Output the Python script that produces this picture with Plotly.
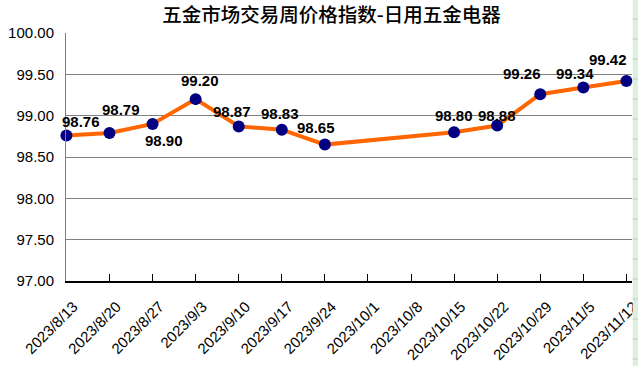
import plotly.graph_objects as go

title_text = "五金市场交易周价格指数-日用五金电器"
categories = ["2023/8/13", "2023/8/20", "2023/8/27", "2023/9/3", "2023/9/10",
              "2023/9/17", "2023/9/24", "2023/10/1", "2023/10/8", "2023/10/15",
              "2023/10/22", "2023/10/29", "2023/11/5", "2023/11/12"]
values = [98.76, 98.79, 98.90, 99.20, 98.87, 98.83, 98.65, None, None,
          98.80, 98.88, 99.26, 99.34, 99.42]
y_ticks = [97.0, 97.5, 98.0, 98.5, 99.0, 99.5, 100.0]

# label offsets in pixels (style only)
label_dx = [15, 11, 11, 4, -7, -2, -9, 0, 0, 0, 0, -18, -8, -18]
label_dy = [14, 24, -17, 19, 15, 16, 17, 0, 0, 17, 10, 21, 14, 21]

fig = go.Figure()
fig.add_trace(go.Scatter(
    x=categories, y=values, mode="lines+markers", connectgaps=True,
    line=dict(color="#FF6600", width=4),
    marker=dict(color="#000080", size=12),
    cliponaxis=False, showlegend=False, hoverinfo="x+y"))

for i, (c, v) in enumerate(zip(categories, values)):
    if v is None:
        continue
    fig.add_annotation(x=c, y=v, text=f"{v:.2f}", showarrow=False,
                       xshift=label_dx[i], yshift=label_dy[i],
                       font=dict(family="Liberation Sans, Arial", size=15,
                                 color="black", weight="bold"))

W, H = 638, 366
L, R, T, B = 66, 6, 33, 85
pw, ph = W - L - R, H - T - B


def px_x(p):
    return (p - L) / pw


def px_y(p):
    return (H - B - p) / ph


# spreadsheet strip at the right edge
fig.add_shape(type="rect", xref="paper", yref="paper",
              x0=px_x(632.7), x1=px_x(640), y0=px_y(370), y1=px_y(-4),
              fillcolor="#DDEFDD", line=dict(width=0), layer="above")
for k in range(19):
    yy = 19 + 20 * k
    fig.add_shape(type="line", xref="paper", yref="paper",
                  x0=px_x(632.7), x1=px_x(640), y0=px_y(yy), y1=px_y(yy),
                  line=dict(color="#B8D3B8", width=1), layer="above")

fig.update_layout(
    width=W, height=H,
    margin=dict(l=L, r=R, t=T, b=B, autoexpand=False),
    paper_bgcolor="white", plot_bgcolor="white",
    title=dict(text=title_text, x=331.5 / W, xanchor="center",
               y=1 - 15 / H, yanchor="middle",
               font=dict(family="Noto Sans CJK SC", size=19.5, color="black",
                         weight=500)),
    xaxis=dict(type="category", range=[-0.01, 13.13],
               tickangle=-45, ticks="inside", ticklen=7, tickcolor="black",
               showline=True, linecolor="black", linewidth=2,
               showgrid=False, zeroline=False, automargin=False,
               ticklabelstandoff=9, ticklabelshift=7,
               tickfont=dict(family="Liberation Sans, Arial", size=15, color="black")),
    yaxis=dict(range=[97, 100], tickvals=y_ticks,
               ticktext=[f"{t:.2f}" for t in y_ticks],
               showgrid=True, gridcolor="#808080", gridwidth=1,
               showline=True, linecolor="#808080", linewidth=1,
               ticks="", zeroline=False, ticklabelstandoff=8, automargin=False,
               tickfont=dict(family="Liberation Sans, Arial", size=15, color="black")),
)

fig.write_html("out.html", config={"displayModeBar": False},
               post_script="document.body.style.margin='0';document.body.style.overflow='hidden';")
